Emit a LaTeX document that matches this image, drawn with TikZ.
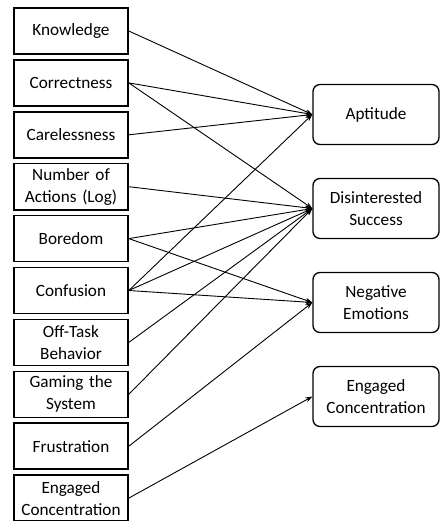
\documentclass[tikz,border=0pt]{standalone}
\usepackage{fontspec}
\setmainfont{Carlito}
\usetikzlibrary{positioning,arrows.meta}

\tikzset{
  factor/.style={draw, line width=1.6pt, minimum width=114pt, minimum height=46pt,
    text width=110pt, align=center, inner sep=0pt,
    font=\fontsize{17.2}{22}\selectfont},
  outcome/.style={draw, line width=1.3pt, rounded corners=7pt, minimum width=126pt,
    minimum height=60pt, text width=120pt, align=center, inner sep=0pt,
    font=\fontsize{17.2}{22}\selectfont},
  link/.style={-{Stealth[length=7pt,width=5pt]}, line width=0.9pt},
}

\begin{document}
\begin{tikzpicture}[x=1pt, y=1pt, node distance=4.3pt]
  \clip (0,0) rectangle (440,-521);
  % predictors
  \node[factor] (knowledge) at (71,-31) {Knowledge};
  \node[factor, below=of knowledge] (correctness) {Correctness};
  \node[factor, below=of correctness] (carelessness) {Carelessness};
  \node[factor, below=of carelessness] (actions) {Number of\\Actions (Log)};
  \node[factor, below=of actions] (boredom) {Boredom};
  \node[factor, below=of boredom] (confusion) {Confusion};
  \node[factor, below=of confusion] (offtask) {Off-Task\\Behavior};
  \node[factor, below=of offtask] (gaming) {Gaming the\\System};
  \node[factor, below=of gaming] (frustration) {Frustration};
  \node[factor, below=of frustration] (engagedin) {Engaged\\Concentration};

  % clusters
  \node[outcome] (aptitude) at (376,-114.5) {Aptitude};
  \node[outcome, below=32.7pt of aptitude] (disinterested) {Disinterested\\Success};
  \node[outcome, below=32.7pt of disinterested] (negative) {Negative\\Emotions};
  \node[outcome, below=32.7pt of negative] (engagedout) {Engaged\\Concentration};

  \draw[link] (knowledge.east) -- (aptitude.west);
  \draw[link] (correctness.east) -- (aptitude.west);
  \draw[link] (correctness.east) -- (disinterested.west);
  \draw[link] (carelessness.east) -- (aptitude.west);
  \draw[link] (actions.east) -- (disinterested.west);
  \draw[link] (boredom.east) -- (disinterested.west);
  \draw[link] (boredom.east) -- (negative.west);
  \draw[link] (confusion.east) -- (aptitude.west);
  \draw[link] (confusion.east) -- (disinterested.west);
  \draw[link] (confusion.east) -- (negative.west);
  \draw[link] (offtask.east) -- (disinterested.west);
  \draw[link] (gaming.east) -- (disinterested.west);
  \draw[link] (frustration.east) -- (negative.west);
  \draw[link] (engagedin.east) -- (engagedout.west);
\end{tikzpicture}
\end{document}
